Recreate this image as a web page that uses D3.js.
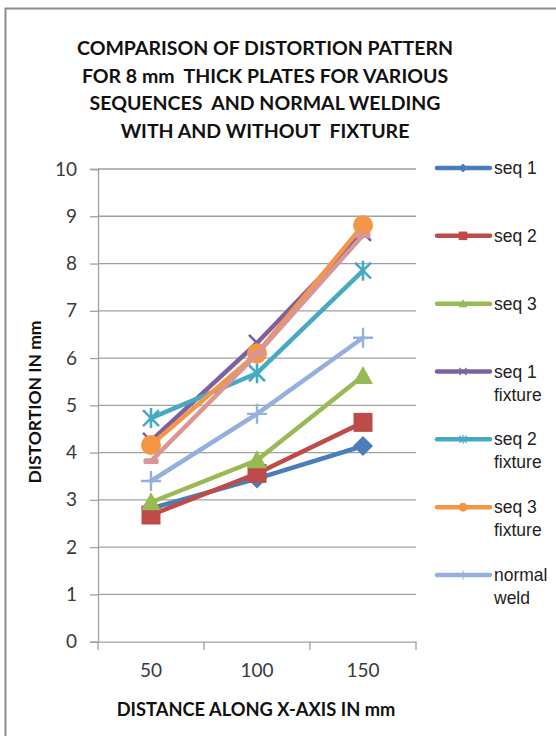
<!DOCTYPE html>
<html><head><meta charset="utf-8">
<script src="https://cdn.jsdelivr.net/npm/d3@7"></script>
<style>body{margin:0;background:#fff} svg{display:block}</style>
</head><body><svg id="c" width="556" height="736"></svg>
<script>
const categories = ["50", "100", "150"];
const seriesNames = ["seq 1", "seq 2", "seq 3", "seq 1 fixture", "seq 2 fixture", "seq 3 fixture", "normal weld", "normal weld fixture"];
const seq1 = [2.82, 3.45, 4.14];
const seq2 = [2.68, 3.56, 4.64];
const seq3 = [2.95, 3.84, 5.62];
const seq1Fixture = [4.25, 6.32, 8.65];
const seq2Fixture = [4.73, 5.68, 7.85];
const seq3Fixture = [4.16, 6.1, 8.81];
const normalWeld = [3.4, 4.82, 6.43];
const normalWeldFixture = [3.82, 6.08, 8.6];
const yTicks = [0, 1, 2, 3, 4, 5, 6, 7, 8, 9, 10];
const legendEntries = [["seq 1"], ["seq 2"], ["seq 3"], ["seq 1", "fixture"], ["seq 2", "fixture"], ["seq 3", "fixture"], ["normal", "weld"]];
const titleLines = ["COMPARISON OF DISTORTION PATTERN", "FOR 8 mm  THICK PLATES FOR VARIOUS", "SEQUENCES  AND NORMAL WELDING", "WITH AND WITHOUT  FIXTURE"];
const xTitle = "DISTANCE ALONG X-AXIS IN mm";
const yTitle = "DISTORTION IN mm";

const values = [seq1, seq2, seq3, seq1Fixture, seq2Fixture, seq3Fixture, normalWeld, normalWeldFixture];
const colors = ["#4A7EBB", "#BE4B48", "#98B954", "#7D60A0", "#46AAC5", "#F39646", "#95B0DC", "#D99694"];
const markers = ["diamond", "square", "triangle", "x", "star", "circle", "plus", "dash"];

const svg = d3.select("#c");
// frame
svg.append("path").attr("d", "M5.5,736 V8.5 H556").attr("fill", "none").attr("stroke", "#8c8c8c").attr("stroke-width", 2);

const x = d3.scaleBand().domain(categories).range([98, 416]);
const cx = d => x(d) + x.bandwidth() / 2;
const y = d3.scaleLinear().domain([0, 10]).range([641.7, 169]);
const gridColor = "#A0A0A0";

// gridlines
svg.append("g").selectAll("line").data(yTicks.filter(t => t > 0)).join("line")
  .attr("x1", 98).attr("x2", 416).attr("y1", d => y(d)).attr("y2", d => y(d))
  .attr("stroke", gridColor).attr("stroke-width", 1.3);

// y axis
const yAxis = svg.append("g").attr("transform", "translate(98,0)")
  .call(d3.axisLeft(y).tickValues(yTicks).tickSize(8).tickPadding(13).tickFormat(d3.format("d")));
yAxis.select(".domain").attr("stroke", gridColor).attr("stroke-width", 1.3);
yAxis.selectAll(".tick line").attr("stroke", gridColor).attr("stroke-width", 1.3);
yAxis.selectAll(".tick text").attr("font-family", "Lato, sans-serif").attr("font-size", 19).attr("fill", "#3a3a3a");

// x axis
const xAxis = svg.append("g").attr("transform", "translate(0,641.7)")
  .call(d3.axisBottom(x).tickSize(0).tickPadding(22));
xAxis.select(".domain").attr("stroke", gridColor).attr("stroke-width", 1.3);
xAxis.selectAll(".tick text").attr("font-family", "Lato, sans-serif").attr("font-size", 19).attr("fill", "#3a3a3a");
const bounds = categories.map(c => x(c)).concat([x(categories[categories.length - 1]) + x.bandwidth()]);
svg.append("g").selectAll("line").data(bounds).join("line")
  .attr("x1", d => d).attr("x2", d => d).attr("y1", 641.7).attr("y2", 650)
  .attr("stroke", gridColor).attr("stroke-width", 1.3);

// titles
svg.append("g").selectAll("text").data(titleLines).join("text")
  .attr("x", 265).attr("y", (d, i) => 55 + i * 27.7)
  .attr("text-anchor", "middle").attr("font-family", "Lato, sans-serif").attr("font-weight", "bold")
  .attr("font-size", 19.5).attr("fill", "#111").style("white-space", "pre").text(d => d);

svg.append("text").attr("x", 256).attr("y", 716).attr("text-anchor", "middle")
  .attr("font-family", "Lato, sans-serif").attr("font-weight", "bold").attr("font-size", 18.3).attr("fill", "#111").text(xTitle);
svg.append("text").attr("transform", "translate(40.5,402) rotate(-90)").attr("text-anchor", "middle")
  .attr("font-family", "Lato, sans-serif").attr("font-weight", "bold").attr("font-size", 17.5).attr("fill", "#111").text(yTitle);

function drawMarker(g, type, color, s) {
  const h = s / 2;
  if (type === "diamond") g.append("path").attr("d", `M0,${-h}L${h},0L0,${h}L${-h},0Z`).attr("fill", color);
  else if (type === "square") g.append("rect").attr("x", -h * 0.95).attr("y", -h * 0.95).attr("width", s * 0.95).attr("height", s * 0.95).attr("fill", color);
  else if (type === "triangle") g.append("path").attr("d", `M0,${-h}L${h},${h * 0.8}L${-h},${h * 0.8}Z`).attr("fill", color);
  else if (type === "circle") g.append("circle").attr("r", h).attr("fill", color);
  else if (type === "x") g.append("path").attr("d", `M${-h * 0.8},${-h * 0.8}L${h * 0.8},${h * 0.8}M${h * 0.8},${-h * 0.8}L${-h * 0.8},${h * 0.8}`).attr("stroke", color).attr("stroke-width", s * 0.13);
  else if (type === "star") g.append("path").attr("d", `M${-h * 0.8},${-h * 0.8}L${h * 0.8},${h * 0.8}M${h * 0.8},${-h * 0.8}L${-h * 0.8},${h * 0.8}M0,${-h}L0,${h}`).attr("stroke", color).attr("stroke-width", s * 0.13);
  else if (type === "plus") g.append("path").attr("d", `M${-h},0L${h},0M0,${-h}L0,${h}`).attr("stroke", color).attr("stroke-width", s * 0.12);
  else if (type === "dash") g.append("rect").attr("x", -h * 0.75).attr("y", -s * 0.14).attr("width", s * 0.75).attr("height", s * 0.28).attr("rx", 1.5).attr("fill", color);
}

const line = d3.line().x((d, i) => cx(categories[i])).y(d => y(d));
values.forEach((vals, si) => {
  const g = svg.append("g");
  g.append("path").datum(vals).attr("d", line).attr("fill", "none").attr("stroke", colors[si])
    .attr("stroke-width", 4.5).attr("stroke-linejoin", "round").attr("stroke-linecap", "round");
  vals.forEach((v, i) => {
    const mg = g.append("g").attr("transform", `translate(${cx(categories[i])},${y(v)})`);
    drawMarker(mg, markers[si], colors[si], 20);
  });
});

// legend
const ly = d3.scalePoint().domain(legendEntries.map((d, i) => i)).range([168, 575]);
legendEntries.forEach((lines, i) => {
  const g = svg.append("g").attr("transform", `translate(0,${ly(i)})`);
  g.append("line").attr("x1", 437).attr("x2", 490).attr("y1", 0).attr("y2", 0)
    .attr("stroke", colors[i]).attr("stroke-width", 4.5).attr("stroke-linecap", "round");
  const mg = g.append("g").attr("transform", "translate(463,0)");
  drawMarker(mg, markers[i], colors[i], 9);
  g.selectAll("text").data(lines).join("text").attr("x", 494).attr("y", (d, j) => 6 + j * 23)
    .attr("font-family", "'Liberation Sans', Arial, sans-serif").attr("font-size", 17.5).attr("fill", "#222").text(d => d);
});
</script></body></html>
